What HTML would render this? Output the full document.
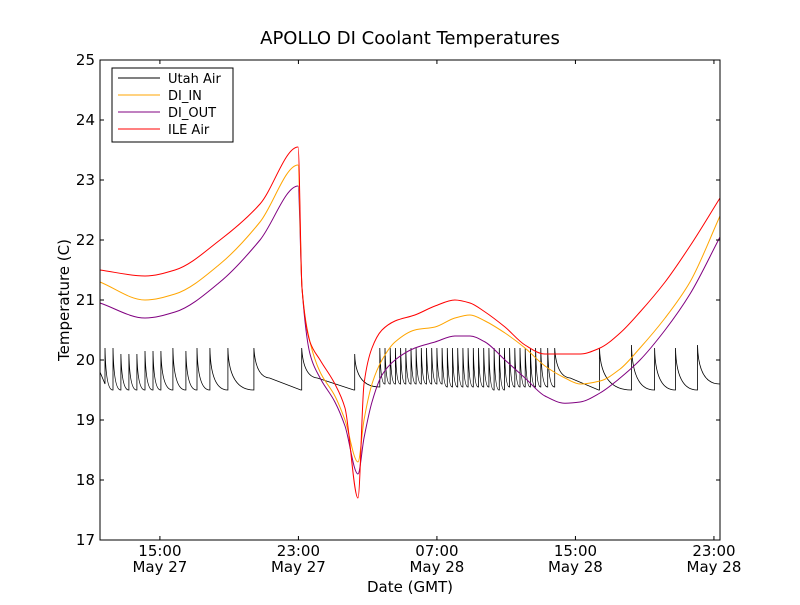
<!DOCTYPE html>
<html><head><meta charset="utf-8"><style>
body{margin:0;background:#fff;}
svg text{font-family:"DejaVu Sans","Liberation Sans",sans-serif;}
</style></head><body>
<svg id="chart" width="800" height="600" viewBox="0 0 800 600">
<rect x="0" y="0" width="800" height="600" fill="#fff"/>
<text x="410" y="44" font-size="18" text-anchor="middle">APOLLO DI Coolant Temperatures</text>
<g id="series"></g>
<rect x="100" y="60" width="620" height="480" fill="none" stroke="#000" stroke-width="1"/>
<g id="axes"></g>
<text x="410" y="592" font-size="15" text-anchor="middle">Date (GMT)</text>
<text transform="translate(69,300) rotate(-90)" font-size="15" text-anchor="middle">Temperature (C)</text>
<g>
<rect x="112" y="68" width="121" height="74" fill="#fff" stroke="#000"/>
<line x1="118" y1="78" x2="160" y2="78" stroke="#000"/><text x="168" y="83" font-size="13">Utah Air</text>
<line x1="118" y1="95" x2="160" y2="95" stroke="orange"/><text x="168" y="100" font-size="13">DI_IN</text>
<line x1="118" y1="112" x2="160" y2="112" stroke="purple"/><text x="168" y="117" font-size="13">DI_OUT</text>
<line x1="118" y1="129" x2="160" y2="129" stroke="red"/><text x="168" y="134" font-size="13">ILE Air</text>
</g>
</svg>
<script>
// hours since May 27 00:00 GMT
const yTicks=[17,18,19,20,21,22,23,24,25];
const xTickHours=[15,23,31,39,47];
const xTickTimes=["15:00","23:00","07:00","15:00","23:00"];
const xTickDates=["May 27","May 27","May 28","May 28","May 28"];
const times=[11.54,14.14,15.87,18.47,20.78,22.98,23.21,23.67,24.25,25.11,25.69,26.44,26.79,27.25,27.83,28.58,29.73,30.89,32.04,32.91,33.78,34.93,36.09,37.24,38.40,39.27,40.42,41.58,42.73,44.18,45.62,47.35];
const diInV=[21.3,21.0,21.1,21.6,22.3,23.25,21.2,20.3,19.8,19.4,19.0,18.3,19.0,19.6,20.0,20.3,20.5,20.55,20.7,20.75,20.65,20.45,20.2,19.9,19.7,19.6,19.65,19.85,20.2,20.7,21.3,22.4];
const diOutV=[20.95,20.7,20.8,21.3,22.0,22.9,21.2,20.1,19.7,19.3,18.9,18.1,18.7,19.3,19.75,20.0,20.2,20.3,20.4,20.4,20.3,20.0,19.7,19.4,19.28,19.3,19.45,19.7,20.0,20.5,21.1,22.05];
const ileV=[21.5,21.4,21.5,22.0,22.6,23.55,21.2,20.3,20.0,19.6,19.2,17.7,19.6,20.2,20.5,20.65,20.75,20.9,21.0,20.95,20.8,20.55,20.25,20.1,20.1,20.1,20.2,20.45,20.8,21.3,21.9,22.7];
const utahT=[11.83,12.29,12.75,13.21,13.67,14.14,14.6,15.06,15.75,16.5,17.14,17.89,18.93,20.43,23.19,26.25,27.7,28.0,28.3,28.6,28.9,29.2,29.5,29.8,30.1,30.4,30.7,31.0,31.3,31.6,31.9,32.2,32.5,32.8,33.1,33.4,33.7,34.0,34.3,34.6,34.9,35.2,35.5,35.8,36.1,36.4,36.7,37.0,37.4,37.8,40.39,42.24,43.57,44.78,46.05];
const utahPeak=[20.2,20.2,20.1,20.1,20.1,20.15,20.15,20.15,20.2,20.15,20.2,20.2,20.2,20.2,20.2,20.1,20.2,20.2,20.2,20.2,20.2,20.2,20.2,20.2,20.2,20.2,20.2,20.2,20.2,20.2,20.2,20.2,20.2,20.2,20.2,20.2,20.2,20.2,20.2,20.2,20.2,20.2,20.2,20.2,20.2,20.2,20.2,20.2,20.2,20.2,20.2,20.25,20.2,20.2,20.25];
const utahTrough=[19.6,19.5,19.5,19.5,19.5,19.5,19.5,19.5,19.5,19.5,19.5,19.5,19.5,19.5,19.5,19.5,19.55,19.6,19.6,19.6,19.6,19.6,19.6,19.6,19.6,19.6,19.6,19.6,19.6,19.55,19.55,19.55,19.55,19.55,19.55,19.55,19.55,19.55,19.5,19.5,19.5,19.55,19.55,19.55,19.55,19.55,19.55,19.55,19.55,19.55,19.5,19.5,19.5,19.5,19.5];
const utahEnd=19.6;

const X=h=>100+(h-11.54)*(620/(47.35-11.54));
const Y=v=>540-(v-17)*60;
const NS="http://www.w3.org/2000/svg";
const ser=document.getElementById('series'), ax=document.getElementById('axes');
function mk(tag,attrs,parent){const e=document.createElementNS(NS,tag);for(const k in attrs)e.setAttribute(k,attrs[k]);parent.appendChild(e);return e;}
// monotone cubic (Fritsch-Carlson) path
function monoPath(T,V){
  const xs=T.map(X), ys=V.map(Y), n=xs.length;
  const dx=[],m=[],t=[];
  for(let i=0;i<n-1;i++){dx.push(xs[i+1]-xs[i]);m.push((ys[i+1]-ys[i])/dx[i]);}
  t[0]=m[0];t[n-1]=m[n-2];
  for(let i=1;i<n-1;i++){
    if(m[i-1]*m[i]<=0)t[i]=0;
    else{const w1=2*dx[i]+dx[i-1],w2=dx[i]+2*dx[i-1];t[i]=(w1+w2)/(w1/m[i-1]+w2/m[i]);}
  }
  let d='M'+xs[0].toFixed(1)+','+ys[0].toFixed(1);
  for(let i=0;i<n-1;i++){
    const h=dx[i]/3;
    d+='C'+(xs[i]+h).toFixed(1)+','+(ys[i]+t[i]*h).toFixed(1)+' '+(xs[i+1]-h).toFixed(1)+','+(ys[i+1]-t[i+1]*h).toFixed(1)+' '+xs[i+1].toFixed(1)+','+ys[i+1].toFixed(1);
  }
  return d;
}
function line(T,V,color,name){
  const p=mk('path',{d:monoPath(T,V),fill:'none',stroke:color,'stroke-width':1},ser);
  
  
}
// Utah air sawtooth
let d='M'+X(11.54)+','+Y(19.8);
for(let i=0;i<utahT.length;i++){
  const t=utahT[i];
  d+='L'+X(t).toFixed(1)+','+Y(utahTrough[i]).toFixed(1)+'L'+X(t).toFixed(1)+','+Y(utahPeak[i]).toFixed(1);
  const tn=i+1<utahT.length?utahT[i+1]:47.35;
  const vn=i+1<utahT.length?utahTrough[i+1]:utahEnd;
  if(tn-t>2){
    d+='Q'+X(t+0.1).toFixed(1)+','+Y(19.72).toFixed(1)+' '+X(t+0.9).toFixed(1)+','+Y(19.7).toFixed(1)+'L'+X(tn-0.05).toFixed(1)+','+Y(vn).toFixed(1);
  } else {
    d+='Q'+X(t+0.05).toFixed(1)+','+Y(vn).toFixed(1)+' '+X(tn-0.02).toFixed(1)+','+Y(vn).toFixed(1);
  }
}
const up=mk('path',{d:d,fill:'none',stroke:'#000','stroke-width':0.8},ser);


line(times,diOutV,'purple','di-out-line');
line(times,diInV,'orange','di-in-line');
line(times,ileV,'red','ile-air-line');
// ticks
yTicks.forEach(v=>{
  const y=Y(v);
  mk('line',{x1:100,y1:y,x2:104,y2:y,stroke:'#000'},ax);
  mk('line',{x1:716,y1:y,x2:720,y2:y,stroke:'#000'},ax);
  const t=mk('text',{x:95,y:y+5,'font-size':15,'text-anchor':'end'},ax);
  t.textContent=v;
  
  
});
xTickHours.forEach((h,i)=>{
  const x=X(h);
  mk('line',{x1:x,y1:540,x2:x,y2:536,stroke:'#000'},ax);
  mk('line',{x1:x,y1:60,x2:x,y2:64,stroke:'#000'},ax);
  const t=mk('text',{x:x,y:556,'font-size':15,'text-anchor':'middle'},ax);
  t.textContent=xTickTimes[i];
  
  
  const t2=mk('text',{x:x,y:572,'font-size':15,'text-anchor':'middle'},ax);
  t2.textContent=xTickDates[i];
  
  
});
</script>
</body></html>
